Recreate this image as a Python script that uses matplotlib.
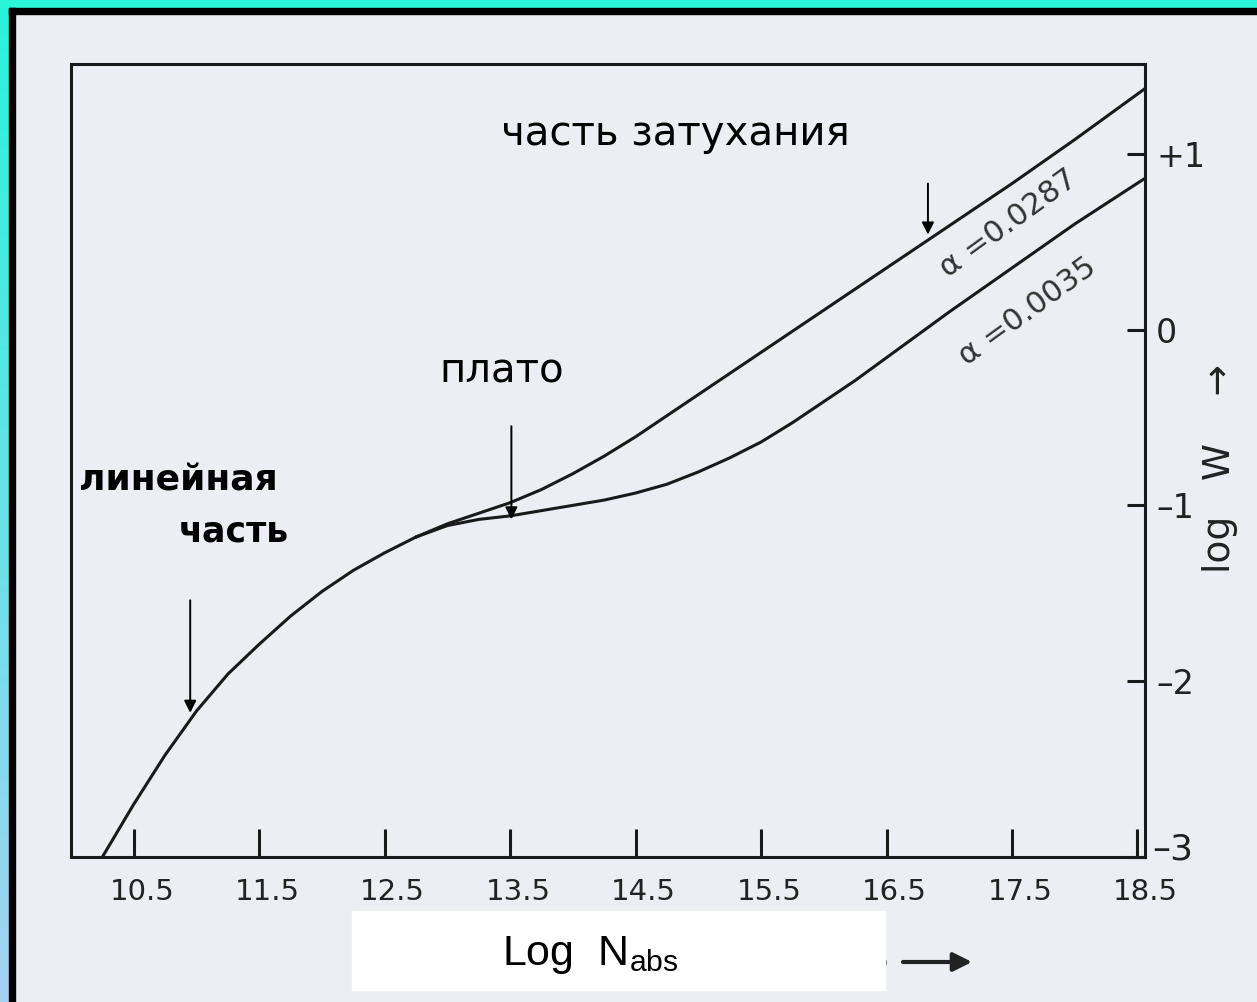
import matplotlib.pyplot as plt
import matplotlib.transforms as mtransforms
import numpy as np
from matplotlib.patches import Rectangle

# ---- data (log N, log W) ----
# common (linear + start of flat) part
logn_common = [10.25, 10.5, 10.75, 11.0, 11.25, 11.5, 11.75, 12.0, 12.25, 12.5, 12.75]
logw_common = [-3.0, -2.70, -2.42, -2.17, -1.96, -1.79, -1.63, -1.49, -1.37, -1.27, -1.18]

# a = 0.0287 branch
logn_a1 = [12.75, 13.0, 13.25, 13.5, 13.75, 14.0, 14.25, 14.5, 14.75, 15.0, 15.5, 16.0, 16.5, 17.0, 17.5, 18.0, 18.56]
logw_a1 = [-1.18, -1.105, -1.045, -0.985, -0.91, -0.82, -0.72, -0.61, -0.49, -0.37, -0.13, 0.11, 0.35, 0.59, 0.83,
           1.08, 1.37]

# a = 0.0035 branch
logn_a2 = [12.75, 13.0, 13.25, 13.5, 13.75, 14.0, 14.25, 14.5, 14.75, 15.0, 15.25, 15.5, 15.75, 16.0, 16.25, 16.5,
           17.0, 17.5, 18.0, 18.56]
logw_a2 = [-1.18, -1.115, -1.08, -1.06, -1.03, -1.0, -0.97, -0.93, -0.88, -0.81, -0.73, -0.64, -0.53, -0.41, -0.29,
           -0.16, 0.1, 0.35, 0.6, 0.86]

xticks = [10.5, 11.5, 12.5, 13.5, 14.5, 15.5, 16.5, 17.5, 18.5]
xtick_labels = ['10.5', '11.5', '12.5', '13.5', '14.5', '15.5', '16.5', '17.5', '18.5']
yticks = [1, 0, -1, -2, -3]
ytick_labels = ['+1', '0', '\u2013' + '1', '\u2013' + '2', '']

paper = '#eceef3'
ink = '#1a1a1a'
fig = plt.figure(figsize=(12.57, 10.02), dpi=100, facecolor=paper)

# cyan / blue frame at top and left
W, H = 1257.0, 1002.0
fig.patches.append(Rectangle((0, 1 - 8 / H), 1, 8 / H, transform=fig.transFigure,
                             color='#2af5d8', zorder=0))
grad_ax = fig.add_axes([0, 0, 9 / W, 1 - 8 / H])
grad = np.linspace(0, 1, 256).reshape(-1, 1)
top_c = np.array([0.16, 0.95, 0.86])
bot_c = np.array([0.64, 0.82, 0.96])
img = top_c[None, None, :] * (1 - grad[:, :, None]) + bot_c[None, None, :] * grad[:, :, None]
grad_ax.imshow(img, aspect='auto', extent=[0, 1, 0, 1])
grad_ax.axis('off')
fig.patches.append(Rectangle((9 / W, 1 - 14 / H), 1, 6 / H, transform=fig.transFigure,
                             color='black', zorder=1))
fig.patches.append(Rectangle((9 / W, 0), 6 / W, 1 - 8 / H, transform=fig.transFigure,
                             color='black', zorder=1))

ax = fig.add_axes([71 / W, 1 - 857 / H, (1145 - 71) / W, (857 - 64) / H])
ax.set_facecolor(paper)

for xs, ys in [(logn_common, logw_common), (logn_a1, logw_a1), (logn_a2, logw_a2)]:
    ax.plot(xs, ys, color=ink, lw=2.2, solid_joinstyle='round', solid_capstyle='round')

ax.set_xlim(10.0, 18.56)
ax.set_ylim(-3.0, 1.51)

for s in ax.spines.values():
    s.set_linewidth(2.2)
    s.set_color(ink)

oldfont = dict(family='DejaVu Sans')
ax.set_xticks(xticks)
ax.set_xticklabels(xtick_labels, fontsize=21, color='#222222', **oldfont)
ax.tick_params(axis='x', direction='in', length=20, width=2.2, pad=15, color=ink)
shift = mtransforms.ScaledTranslation(8 / 100, 0, fig.dpi_scale_trans)
for lab in ax.get_xticklabels():
    lab.set_transform(lab.get_transform() + shift)

ax.yaxis.tick_right()
ax.set_yticks(yticks)
ax.set_yticklabels(ytick_labels, fontsize=24, color='#222222', **oldfont)
ax.tick_params(axis='y', direction='in', length=13, width=2.2, pad=8, color=ink)

# the "-3" sitting at the bottom right corner
ax.text(18.62, -2.96, '\u20133', fontsize=26, color='#222222', ha='left', va='center', **oldfont)

# right axis title
ax.text(19.16, -0.79, 'log   W    \u2192', rotation=90, fontsize=27, color='#222222',
        ha='center', va='center', **oldfont)

# curve labels
ax.text(17.47, 0.6, '\u03b1 =0.0287', rotation=36, fontsize=22, color='#333333',
        ha='center', va='center', rotation_mode='anchor', **oldfont)
ax.text(17.62, 0.1, '\u03b1 =0.0035', rotation=36, fontsize=22, color='#333333',
        ha='center', va='center', rotation_mode='anchor', **oldfont)

# russian annotations
ax.text(14.82, 1.11, 'часть затухания', fontsize=29, ha='center', va='center', family='DejaVu Sans')
ax.text(13.43, -0.24, 'плато', fontsize=29, ha='center', va='center', family='DejaVu Sans')
ax.text(10.06, -0.86, 'линейная', fontsize=26, fontweight='bold', ha='left', va='center',
        family='DejaVu Sans')
ax.text(10.86, -1.15, 'часть', fontsize=25, fontweight='bold', ha='left', va='center',
        family='DejaVu Sans')

arrow = dict(arrowstyle='-|>', color='black', lw=1.4, mutation_scale=18, shrinkA=0, shrinkB=0)
ax.annotate('', xy=(16.83, 0.54), xytext=(16.83, 0.83), arrowprops=arrow)
ax.annotate('', xy=(13.51, -1.08), xytext=(13.51, -0.55), arrowprops=arrow)
ax.annotate('', xy=(10.95, -2.18), xytext=(10.95, -1.54), arrowprops=arrow)

# old axis title partly covered by a white box with the new one
fig.text(878 / W, 1 - 958 / H, 's', fontsize=30, color='#222222', ha='center', va='center',
         family='DejaVu Sans', zorder=2)
ax.annotate('', xy=(972 / W, 1 - 962 / H), xytext=(903 / W, 1 - 962 / H),
            xycoords='figure fraction', textcoords='figure fraction',
            arrowprops=dict(arrowstyle='-|>', color='#222222', lw=3.0, mutation_scale=28,
                            shrinkA=0, shrinkB=0), annotation_clip=False)
fig.patches.append(Rectangle((352 / W, 1 - 990 / H), (885 - 352) / W, (990 - 911) / H,
                             transform=fig.transFigure, color='white', zorder=3))
fig.text(590 / W, 1 - 955 / H, r'Log  N$_{\mathregular{abs}}$', fontsize=31, color='black',
         ha='center', va='center', family='Liberation Sans', zorder=4)

fig.savefig('out.png', dpi=100, facecolor=paper)
